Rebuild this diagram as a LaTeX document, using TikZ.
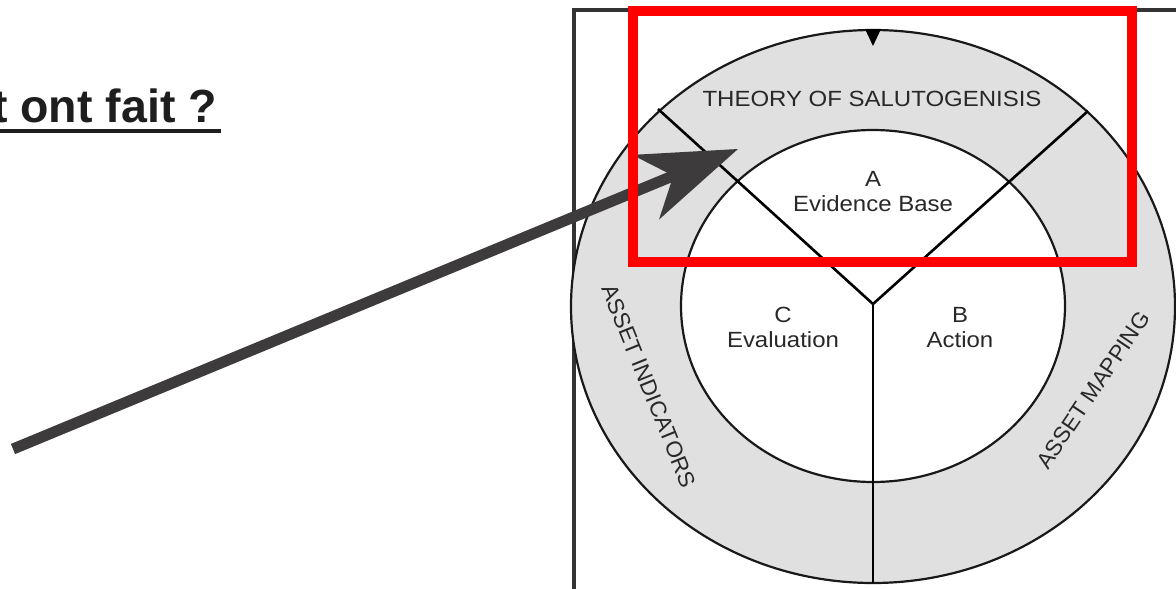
\documentclass[tikz,border=0pt]{standalone}
\usepackage{fontspec}
\setmainfont{Liberation Sans}
\newfontfamily\widesans[FakeStretch=1.09]{Liberation Sans}
\usetikzlibrary{arrows.meta}
\definecolor{ringgray}{RGB}{224,224,224}
\definecolor{arrowgray}{RGB}{61,59,60}
\definecolor{framegray}{RGB}{51,51,51}
\definecolor{txtgray}{RGB}{40,40,40}
\definecolor{titleblack}{RGB}{30,30,30}
\definecolor{lineblack}{RGB}{25,25,25}
\tikzset{
  lbl/.style={inner sep=0pt, text=txtgray, font=\widesans\fontsize{22}{25}\selectfont},
  rotlbl/.style={inner sep=0pt, text=txtgray, font=\fontsize{22.5}{25}\selectfont},
  ringline/.style={draw=lineblack, line width=2.2pt},
  yline/.style={draw=black, line width=2.6pt},
  framestyle/.style={draw=framegray, line width=4.5pt},
  highlight/.style={draw=red, line width=10pt},
  bigarrow/.style={draw=arrowgray, line width=11pt,
    -{Stealth[length=100pt, width=70pt, inset=30pt, line width=0pt]}}
}
\begin{document}
\begin{tikzpicture}[x=1pt, y=-1pt]
\useasboundingbox (0,0) rectangle (1176,589);
\clip (0,0) rectangle (1176,589);
\fill[white] (0,0) rectangle (1176,589);

% heading fragment
\node[inner sep=0pt, anchor=base west, text=titleblack,
      font=\bfseries\fontsize{46.5}{52}\selectfont] (question) at (-8,122) {t ont fait ?};
\coordinate (ulstart) at (-2,131.3);
\coordinate (ulend) at (221,131.3);
\draw[titleblack, line width=4pt] (ulstart) -- (ulend);

% frame of the embedded figure
\draw[framestyle] (574,595) -- (574,10) -- (1185,10);

% rings
\fill[ringgray] (873,306.5) ellipse [x radius=302pt, y radius=276.5pt];
\draw[ringline] (873,306.5) ellipse [x radius=302pt, y radius=276.5pt];
\fill[white] (873,306) ellipse [x radius=192pt, y radius=176pt];
\draw[ringline] (873,306) ellipse [x radius=192pt, y radius=176pt];

% Y divider
\coordinate (J) at (873,304);
\coordinate (yl) at (658,109);
\coordinate (yr) at (1088,111);
\coordinate (yb) at (873,583);
\draw[yline, line join=miter] (yl) -- (J) -- (yr);
\draw[yline] (J) -- (yb);

% top marker
\fill[black] (865,29) -- (881,29) -- (873,46) -- cycle;

% labels
\node[lbl, anchor=base] (theory) at (872,106) {THEORY OF SALUTOGENISIS};
\node[lbl, anchor=base] (aletter) at (873,186) {A};
\node[lbl, anchor=base] (evidence) at (873,211) {Evidence Base};
\node[lbl, anchor=base] (cletter) at (783,322) {C};
\node[lbl, anchor=base] (evaluation) at (783,347) {Evaluation};
\node[lbl, anchor=base] (bletter) at (960,322) {B};
\node[lbl, anchor=base] (action) at (960,347) {Action};
\node[rotlbl, rotate=-68] (indicators) at (649,386) {ASSET INDICATORS};
\node[rotlbl, rotate=56] (mapping) at (1093,390) {ASSET MAPPING};

% big arrow
\coordinate (arrowstart) at (13,449);
\coordinate (arrowtip) at (738,149);
\draw[bigarrow] (arrowstart) -- (arrowtip);

% red highlight
\draw[highlight] (633,11) rectangle (1132,262);
\end{tikzpicture}
\end{document}
